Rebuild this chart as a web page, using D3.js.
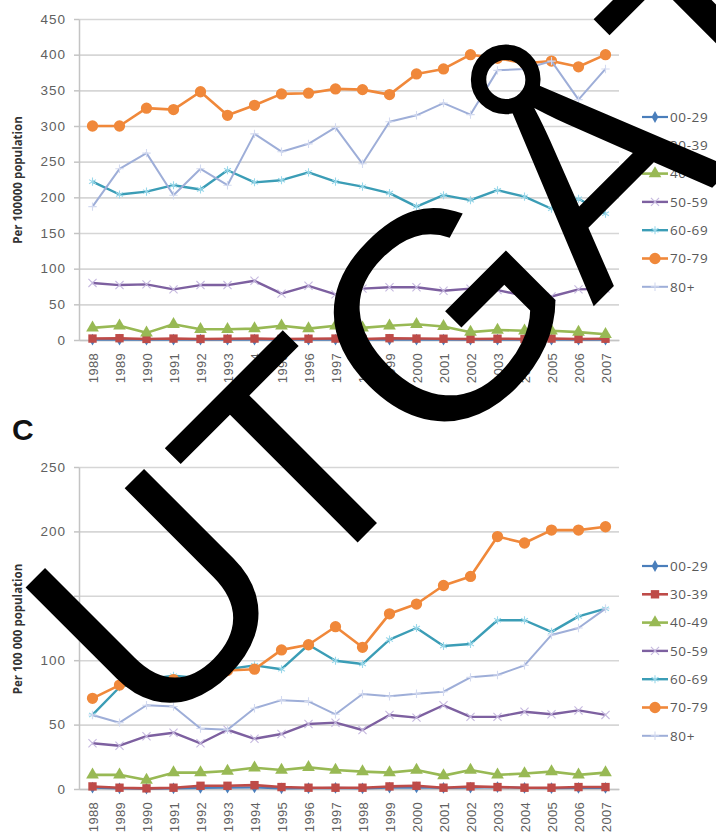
<!DOCTYPE html>
<html>
<head>
<meta charset="utf-8">
<script src="https://cdn.jsdelivr.net/npm/d3@7"></script>
<style>
  body { margin: 0; background: #fff; }
  svg { display: block; font-family: "Open Sans", sans-serif; }
</style>
</head>
<body>
<div id="chart-area"></div>
<script>

// Categories
var years = ["1988","1989","1990","1991","1992","1993","1994","1995","1996","1997",
             "1998","1999","2000","2001","2002","2003","2004","2005","2006","2007"];
var ageGroups = ["00-29","30-39","40-49","50-59","60-69","70-79","80+"];

// Upper panel, per 100000 population
var upper0029 = [0.5,0.5,0.4,0.5,0.4,0.5,0.4,0.5,0.4,0.5,0.4,0.5,0.4,0.5,0.4,0.4,0.5,0.4,0.4,0.4];
var upper3039 = [2,2.5,1.5,2,1.5,1.8,2,1.5,1.8,2,1.5,2.5,2,1.8,1.5,1.8,1.5,2,1.5,1.8];
var upper4049 = [17,20,10,22,15,15,16,20,16,20,17,20,22,19,11,14,13,13,11,8];
var upper5059 = [80,77,78,71,77,77,83,65,76,64,72,74,74,69,72,70,62,61,71,72];
var upper6069 = [222,204,208,217,211,238,221,224,235,222,215,206,187,203,196,210,201,184,198,177];
var upper7079 = [300,300,325,323,348,315,329,345,346,352,351,344,373,380,400,395,388,391,383,400];
var upper80   = [187,240,262,203,240,217,289,264,275,298,247,306,315,332,316,378,380,391,337,380];
var upperTicks = [0,50,100,150,200,250,300,350,400,450];

// Lower panel (C), per 100 000 population
var lower0029 = [1,0.5,0.3,0.5,0.8,1,1.2,0.5,0.6,0.8,0.5,1,1.2,0.8,1,1.5,0.8,0.6,0.8,0.8];
var lower3039 = [2,1,0.5,1,2.5,2.5,3,1.5,1,1,1,2,2.5,1,2,1.5,1,1,1.5,1.5];
var lower4049 = [11,11,7,12.7,12.7,14,16.5,14.7,16.8,14.7,13.5,12.7,14.7,10.4,14.7,11,12,13.5,11,12.7];
var lower5059 = [35.5,33.6,41,43.7,35.5,46,39,42.7,50.5,51.5,45.8,57.5,55.4,65,56,56,60,58,61,57.5];
var lower6069 = [57.5,79,85,88,86,93,96,93,112,99.6,97,116,125,111,112.6,131,131,122,134,140];
var lower7079 = [70.4,80.7,82,85,87,92,93,108,112,126,110,136,143.6,158,165,196,191,201,201,203.6];
var lower80   = [57.5,51.5,65,64,47,46,62.7,69,68,58,73.8,72,74,75.5,86.7,88.5,96,119.6,125,140];
var lowerTicks = [0,50,100,150,200,250];

// Styles per age group
var lineColors   = ["#4a7ebb","#be4b48","#98b954","#7d60a0","#3b9db6","#f0883a","#9eaed8"];
var markerColors = ["#4a7ebb","#be4b48","#98b954","#c6b9df","#9ad8ea","#f0883a","#d3daf0"];
var markerTypes  = [d3.symbolDiamond, d3.symbolSquare, d3.symbolTriangle, d3.symbolTimes,
                    d3.symbolAsterisk, d3.symbolCircle, d3.symbolPlus];
var markerSizes  = [40, 70, 70, 45, 45, 100, 25];
var lineWidths   = [2.2, 2.6, 2.6, 2.4, 2.4, 2.6, 2];
var strokeMarker = [false, false, false, true, true, false, true];

// SVG Size
var width = 716,
    height = 837;

var svg = d3.select("#chart-area").append("svg")
    .attr("width", width)
    .attr("height", height);

var plotLeft = 79,
    plotRight = 619;

var x = d3.scalePoint()
    .domain(years)
    .range([plotLeft, plotRight])
    .padding(0.5);

function drawPanel(opt) {
  var y = d3.scaleLinear()
      .domain([0, opt.ticks[opt.ticks.length - 1]])
      .range([opt.bottom, opt.top]);

  var g = svg.append("g");

  // Gridlines
  g.append("g")
      .attr("transform", "translate(" + plotLeft + ",0)")
      .call(d3.axisLeft(y).tickValues(opt.ticks).tickSize(-(plotRight - plotLeft)).tickFormat(""))
      .call(function(a) { a.select(".domain").remove(); })
      .selectAll("line")
        .attr("stroke", "#d6d6d6")
        .attr("stroke-width", 1.6);

  // Y axis
  var yAxis = g.append("g")
      .attr("transform", "translate(" + plotLeft + ",0)")
      .call(d3.axisLeft(y).tickValues(opt.ticks).tickSize(5).tickSizeOuter(0).tickPadding(8));
  yAxis.select(".domain").attr("stroke", "#c4c4c4").attr("stroke-width", 1.5);
  yAxis.selectAll(".tick line").attr("stroke", "#c4c4c4").attr("stroke-width", 1.5);
  yAxis.selectAll("text")
      .attr("fill", "#606060")
      .style("font-size", "13.5px")
      .style("letter-spacing", "1px");

  // X axis
  var xAxis = g.append("g")
      .attr("transform", "translate(0," + opt.bottom + ")")
      .call(d3.axisBottom(x).tickSize(0).tickSizeOuter(0));
  xAxis.select(".domain").attr("stroke", "#c4c4c4").attr("stroke-width", 1.5);
  xAxis.selectAll("text")
      .attr("transform", "rotate(-90)")
      .attr("text-anchor", "end")
      .attr("x", -13)
      .attr("y", 0)
      .attr("dy", "0.36em")
      .attr("fill", "#606060")
      .style("font-size", "13px")
      .style("letter-spacing", "0.3px");

  // Y axis title
  g.append("text")
      .attr("transform", "translate(22," + opt.labelY + ") rotate(-90)")
      .attr("text-anchor", "middle")
      .attr("fill", "#333")
      .style("font-size", "11.5px")
      .style("font-weight", "bold")
      .text(opt.yTitle);

  var line = d3.line()
      .x(function(d, i) { return x(years[i]); })
      .y(function(d) { return y(d); });

  // Series lines and markers
  opt.series.forEach(function(values, s) {
    g.append("path")
        .datum(values)
        .attr("fill", "none")
        .attr("stroke", lineColors[s])
        .attr("stroke-width", lineWidths[s])
        .attr("stroke-linejoin", "round")
        .attr("d", line);

    g.selectAll(".m" + s)
        .data(values)
        .enter()
        .append("path")
        .attr("class", "m" + s)
        .attr("transform", function(d, i) { return "translate(" + x(years[i]) + "," + y(d) + ")"; })
        .attr("d", d3.symbol().type(markerTypes[s]).size(markerSizes[s]))
        .attr("fill", strokeMarker[s] ? "none" : markerColors[s])
        .attr("stroke", strokeMarker[s] ? markerColors[s] : "none")
        .attr("stroke-width", 1.1);
  });

  // Legend
  var legend = g.selectAll(".legend")
      .data(ageGroups)
      .enter()
      .append("g")
      .attr("transform", function(d, i) { return "translate(642," + (opt.legendTop + i * 28.3) + ")"; });

  legend.append("line")
      .attr("x1", 0).attr("x2", 26)
      .attr("stroke", function(d, i) { return lineColors[i]; })
      .attr("stroke-width", function(d, i) { return lineWidths[i]; });

  legend.append("path")
      .attr("transform", "translate(13,0)")
      .attr("d", function(d, i) { return d3.symbol().type(markerTypes[i]).size(markerSizes[i])(); })
      .attr("fill", function(d, i) { return strokeMarker[i] ? "none" : markerColors[i]; })
      .attr("stroke", function(d, i) { return strokeMarker[i] ? markerColors[i] : "none"; })
      .attr("stroke-width", 1.1);

  legend.append("text")
      .attr("x", 28)
      .attr("dy", "0.36em")
      .attr("fill", "#595959")
      .style("font-size", "13.5px")
      .style("letter-spacing", "0.6px")
      .text(function(d) { return d; });
}

drawPanel({
  ticks: upperTicks,
  top: 19,
  bottom: 340,
  legendTop: 117,
  labelY: 180,
  yTitle: "Per 100000 population",
  series: [upper0029, upper3039, upper4049, upper5059, upper6069, upper7079, upper80]
});

drawPanel({
  ticks: lowerTicks,
  top: 467,
  bottom: 789,
  legendTop: 566,
  labelY: 629,
  yTitle: "Per 100 000 population",
  series: [lower0029, lower3039, lower4049, lower5059, lower6069, lower7079, lower80]
});

// Panel letter
svg.append("text")
    .attr("x", 12)
    .attr("y", 440)
    .attr("fill", "#111")
    .style("font-family", "'Liberation Sans', Arial, sans-serif")
    .style("font-size", "30px")
    .style("font-weight", "bold")
    .text("C");

// Stamp across the figure
svg.append("text")
    .attr("transform", "translate(153,747) rotate(-45)")
    .attr("fill", "#000")
    .style("font-family", "'Liberation Sans', Arial, sans-serif")
    .style("font-size", "295px")
    .text("UTGÅTT");

</script>
</body>
</html>
